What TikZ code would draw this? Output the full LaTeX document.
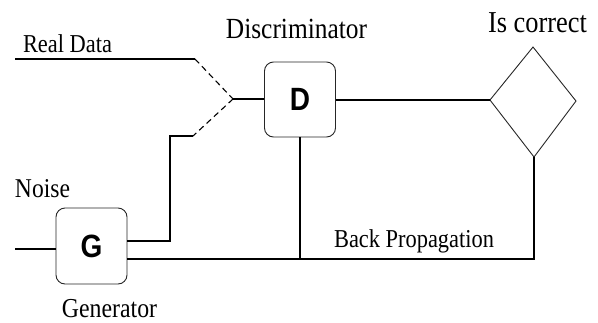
\documentclass[tikz,border=0pt]{standalone}
\usepackage{fontspec}
\setmainfont{Liberation Serif}
\newfontfamily\boxfont{Liberation Sans}
\begin{document}
\begin{tikzpicture}[x=1pt,y=-1pt,
  wire/.style={line width=1.1pt,black},
  dashwire/.style={line width=1.1pt,black,dash pattern=on 6pt off 4pt},
  block/.style={draw=black!85,line width=0.9pt,rounded corners=9pt,inner sep=0pt},
  letter/.style={font=\boxfont\bfseries\fontsize{28}{30}\selectfont},
  caption/.style={inner sep=0pt,anchor=base}]
\useasboundingbox (0,0) rectangle (598,322);

% processing blocks
\node[block,minimum width=71pt,minimum height=75pt] (D) at (300,99.5) {};
\node[letter] at (D.center) {\scalebox{1}[1.15]{D}};
\node[block,minimum width=71pt,minimum height=76pt] (G) at (91.5,246) {};
\node[letter] at (G.center) {\scalebox{1}[1.15]{G}};

% decision diamond
\coordinate (dl) at (490,100);
\coordinate (dt) at (533,47);
\coordinate (dr) at (576,101);
\coordinate (db) at (534,157);
\draw[line width=0.9pt,black!85] (dl) -- (dt) -- (dr) -- (db) -- cycle;

% inputs
\coordinate (real) at (15,59);
\coordinate (realbend) at (195,59);
\coordinate (merge) at (233,99);
\coordinate (fakebend) at (193,136);
\coordinate (fakecorner) at (170,136);
\coordinate (noise) at (15,249);

\draw[wire] (real) -- (realbend);
\draw[dashwire] (realbend) -- (merge);
\draw[dashwire] (merge) -- (fakebend);
\draw[wire] (merge) -- (D.west |- merge);
\draw[wire] (G.east |- 0,241) -| (fakecorner) -- (fakebend);
\draw[wire] (noise) -- (G.west |- noise);

% discriminator output
\draw[wire] (D.east |- dl) -- (dl);

% back propagation loop
\coordinate (loop) at (db |- 0,259);
\draw[wire] (db) -- (loop) -- (G.east |- loop);
\draw[wire] (D.south) -- (D.south |- loop);

% labels
\node[caption,font=\fontsize{22.4}{26}\selectfont] at (67.5,52) {\scalebox{1}[1.15]{Real Data}};
\node[caption,font=\fontsize{25.4}{29}\selectfont] at (296.5,38) {\scalebox{1}[1.15]{Discriminator}};
\node[caption,font=\fontsize{26.4}{30}\selectfont] at (537.5,32) {\scalebox{1}[1.15]{Is correct}};
\node[caption,font=\fontsize{23.6}{27}\selectfont] at (42.5,197) {\scalebox{1}[1.15]{Noise}};
\node[caption,font=\fontsize{23.8}{27}\selectfont] at (109.5,317) {\scalebox{1}[1.15]{Generator}};
\node[caption,font=\fontsize{22.4}{26}\selectfont] at (414,247) {\scalebox{1}[1.15]{Back Propagation}};
\end{tikzpicture}
\end{document}
